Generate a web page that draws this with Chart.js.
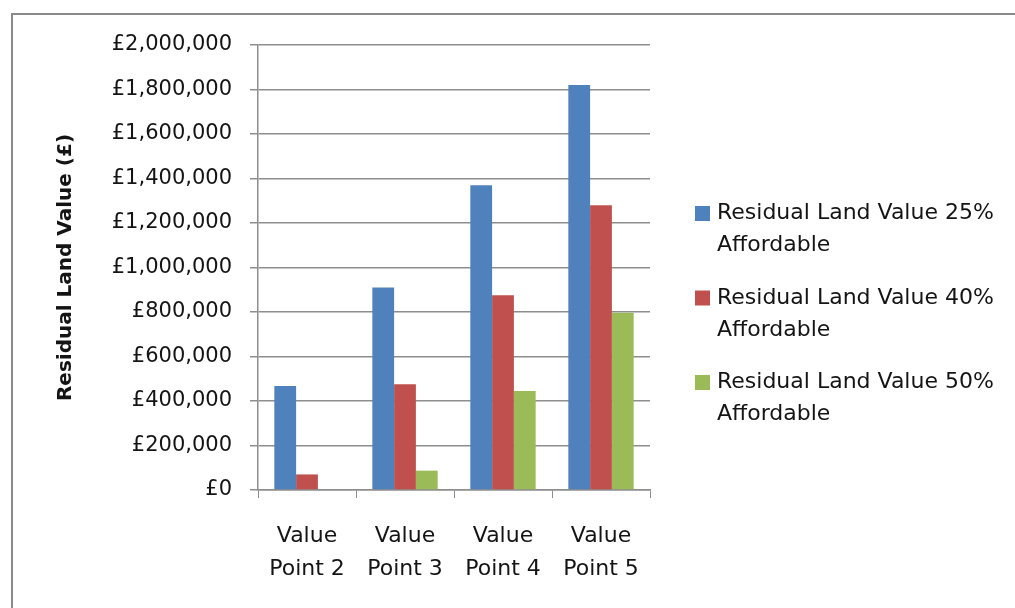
<!DOCTYPE html>
<html>
<head>
<meta charset="utf-8">
<script src="https://cdn.jsdelivr.net/npm/chart.js@4"></script>
<style>
  html, body { margin: 0; padding: 0; background: #ffffff; overflow: hidden; }
  canvas { display: block; }
</style>
</head>
<body>
<canvas id="chart" width="1015" height="608"></canvas>
<script>
// Categories (two-line labels) and series values in pounds
const categories = [
  ['Value', 'Point 2'],
  ['Value', 'Point 3'],
  ['Value', 'Point 4'],
  ['Value', 'Point 5']
];
const seriesLabels = [
  ['Residual Land Value 25%', 'Affordable'],
  ['Residual Land Value 40%', 'Affordable'],
  ['Residual Land Value 50%', 'Affordable']
];
const rlv25 = [467000, 910000, 1370000, 1820000];
const rlv40 = [70000, 475000, 875000, 1280000];
const rlv50 = [0, 87000, 445000, 797000];
const yMin = 0;
const yMax = 2000000;
const yStep = 200000;
const yTitle = 'Residual Land Value (£)';

const colors = ['#4F81BD', '#C0504D', '#9BBB59'];
const FONT = "'DejaVu Sans', 'Noto Sans', sans-serif";
const TEXT = '#141414';
const GRID = '#8e8e8e';

// Outer frame of the chart object
const framePlugin = {
  id: 'frame',
  beforeDraw(chart) {
    const ctx = chart.ctx;
    ctx.save();
    ctx.strokeStyle = '#8a8a8a';
    ctx.lineWidth = 2;
    ctx.beginPath();
    ctx.moveTo(12, chart.height + 5);
    ctx.lineTo(12, 14);
    ctx.lineTo(chart.width + 5, 14);
    ctx.stroke();
    ctx.restore();
  }
};

// Right-hand legend with wrapped series names
const sideLegend = {
  id: 'sideLegend',
  afterDraw(chart, args, opts) {
    const ctx = chart.ctx;
    ctx.save();
    ctx.font = opts.fontSize + 'px ' + FONT;
    ctx.textBaseline = 'middle';
    ctx.textAlign = 'left';
    chart.data.datasets.forEach((ds, i) => {
      const y0 = opts.top + i * opts.itemGap;
      ctx.fillStyle = ds.backgroundColor;
      ctx.fillRect(opts.boxX, y0 - opts.box / 2, opts.box, opts.box);
      ctx.fillStyle = TEXT;
      seriesLabels[i].forEach((line, j) => {
        ctx.fillText(line, opts.textX, y0 + j * opts.lineGap);
      });
    });
    ctx.restore();
  }
};

new Chart(document.getElementById('chart'), {
  type: 'bar',
  data: {
    labels: categories,
    datasets: [
      { label: seriesLabels[0].join(' '), data: rlv25, backgroundColor: colors[0] },
      { label: seriesLabels[1].join(' '), data: rlv40, backgroundColor: colors[1] },
      { label: seriesLabels[2].join(' '), data: rlv50, backgroundColor: colors[2] }
    ]
  },
  options: {
    responsive: false,
    animation: false,
    events: [],
    layout: { padding: { left: 20, top: 45, right: 365, bottom: 0 } },
    datasets: { bar: { categoryPercentage: 3 / 4.5, barPercentage: 1 } },
    plugins: {
      legend: { display: false },
      tooltip: { enabled: false },
      sideLegend: { top: 213.5, itemGap: 84.5, lineGap: 32, box: 15, boxX: 695, textX: 717, fontSize: 22 }
    },
    scales: {
      x: {
        grid: { display: true, drawOnChartArea: false, color: GRID, tickLength: 8, offset: true },
        border: { display: true, color: GRID, width: 1.5 },
        ticks: {
          color: TEXT,
          font: { family: FONT, size: 22, lineHeight: 1.5 },
          padding: 22,
          maxRotation: 0,
          autoSkip: false
        },
        afterFit(scale) { scale.height = 118; }
      },
      y: {
        min: yMin,
        max: yMax,
        grid: { color: GRID, lineWidth: 1.5, tickLength: 8 },
        border: { display: true, color: GRID, width: 1.5 },
        ticks: {
          stepSize: yStep,
          color: TEXT,
          padding: 18,
          font: { family: FONT, size: 21 },
          callback: v => '£' + v.toLocaleString('en-GB')
        },
        title: {
          display: true,
          text: yTitle,
          color: TEXT,
          font: { family: FONT, size: 20, weight: 'bold' },
          padding: { top: 34, bottom: 0 }
        },
        afterFit(scale) { scale.width = 238; }
      }
    }
  },
  plugins: [framePlugin, sideLegend]
});
</script>
</body>
</html>
